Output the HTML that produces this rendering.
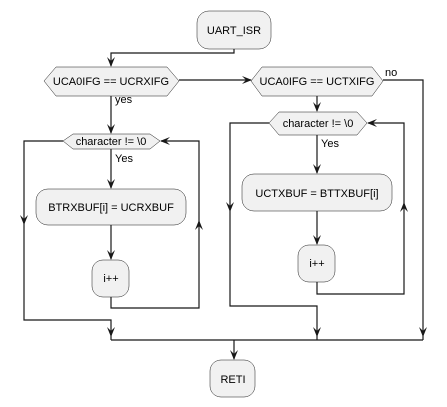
<!DOCTYPE html>
<html><head><meta charset="utf-8"><style>
html,body{margin:0;padding:0;background:#fff;width:447px;height:407px;overflow:hidden}
svg{display:block}
text{font-family:"Liberation Sans","DejaVu Sans",sans-serif;font-size:11px;fill:#000}
.b{fill:#F1F1F1;stroke:#181818;stroke-width:0.5}
.l{fill:none;stroke:#181818;stroke-width:1.2}
.a{fill:#181818;stroke:none}
</style></head><body>
<svg width="447" height="407" viewBox="0 0 447 407" xmlns="http://www.w3.org/2000/svg">
<defs>
<polygon id="ad" points="-4,-10 0,0 4,-10 0,-6"/>
</defs>
<rect class="b" x="197" y="11" width="74" height="38" rx="12"/>
<text x="234" y="34" text-anchor="middle">UART_ISR</text>
<polyline class="l" points="234,49 234,53 111,53 111,66"/>
<use href="#ad" class="a" transform="translate(111,67)"/>
<polygon class="b" points="44,81 56,67 167,67 179,81 167,96 56,96"/>
<text x="111" y="85" text-anchor="middle">UCA0IFG == UCRXIFG</text>
<line class="l" x1="179" y1="80" x2="251" y2="80"/>
<use href="#ad" class="a" transform="translate(252,80) rotate(-90)"/>
<polygon class="b" points="251,81 262,67 372,67 383,81 372,96 262,96"/>
<text x="317" y="85" text-anchor="middle">UCA0IFG == UCTXIFG</text>
<text x="385" y="76">no</text>
<polyline class="l" points="383,80 423,80 423,340"/>
<use href="#ad" class="a" transform="translate(423,337)"/>
<text x="115" y="103">yes</text>
<line class="l" x1="111" y1="96" x2="111" y2="133"/>
<use href="#ad" class="a" transform="translate(111,134)"/>
<polygon class="b" points="63,141 73,134 150,134 160,141 150,149 73,149"/>
<text x="111" y="145" text-anchor="middle">character != \0</text>
<text x="115" y="162">Yes</text>
<line class="l" x1="111" y1="149" x2="111" y2="188"/>
<use href="#ad" class="a" transform="translate(111,189)"/>
<rect class="b" x="36" y="189" width="150" height="36" rx="12"/>
<text x="111" y="211" text-anchor="middle">BTRXBUF[i] = UCRXBUF</text>
<line class="l" x1="111" y1="225" x2="111" y2="259"/>
<use href="#ad" class="a" transform="translate(111,260)"/>
<rect class="b" x="92" y="260" width="37" height="37" rx="11"/>
<text x="111" y="282" text-anchor="middle">i++</text>
<polyline class="l" points="111,297 111,308 199,308 199,141 161,141"/>
<use href="#ad" class="a" transform="translate(199,220) rotate(180)"/>
<use href="#ad" class="a" transform="translate(160,141) rotate(90)"/>
<polyline class="l" points="63,141 24,141 24,320 111,320 111,340"/>
<use href="#ad" class="a" transform="translate(24,225)"/>
<use href="#ad" class="a" transform="translate(111,337)"/>
<line class="l" x1="317" y1="96" x2="317" y2="111"/>
<use href="#ad" class="a" transform="translate(317,112)"/>
<polygon class="b" points="269,123 279,112 357,112 367,123 357,135 279,135"/>
<text x="318" y="127" text-anchor="middle">character != \0</text>
<text x="321" y="147">Yes</text>
<line class="l" x1="317" y1="135" x2="317" y2="173"/>
<use href="#ad" class="a" transform="translate(317,174)"/>
<rect class="b" x="242" y="174" width="150" height="37" rx="12"/>
<text x="317" y="197" text-anchor="middle">UCTXBUF = BTTXBUF[i]</text>
<line class="l" x1="317" y1="211" x2="317" y2="244"/>
<use href="#ad" class="a" transform="translate(317,245)"/>
<rect class="b" x="298" y="245" width="37" height="37" rx="11"/>
<text x="317" y="267" text-anchor="middle">i++</text>
<polyline class="l" points="317,282 317,294 404,294 404,123 368,123"/>
<use href="#ad" class="a" transform="translate(404,202) rotate(180)"/>
<use href="#ad" class="a" transform="translate(367,123) rotate(90)"/>
<polyline class="l" points="269,123 230,123 230,306 317,306 317,340"/>
<use href="#ad" class="a" transform="translate(230,212)"/>
<use href="#ad" class="a" transform="translate(317,337)"/>
<line class="l" x1="111" y1="340" x2="423" y2="340"/>
<line class="l" x1="234" y1="340" x2="234" y2="359"/>
<use href="#ad" class="a" transform="translate(234,360)"/>
<rect class="b" x="210" y="360" width="45" height="37" rx="11"/>
<text x="233" y="383" text-anchor="middle">RETI</text>
</svg>
</body></html>
